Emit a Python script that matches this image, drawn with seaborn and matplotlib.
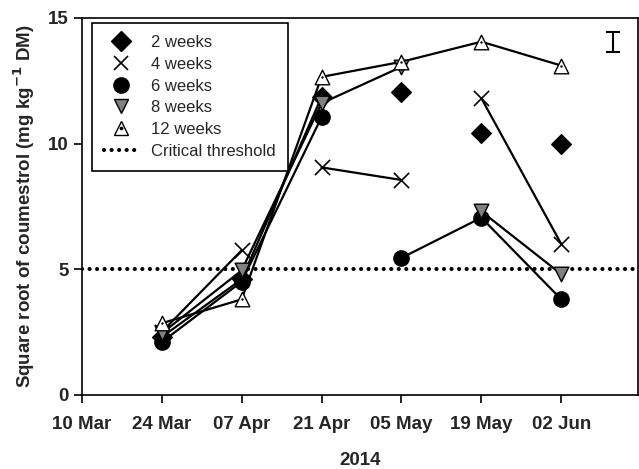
import numpy as np
import pandas as pd
import matplotlib
matplotlib.use("Agg")
import matplotlib.pyplot as plt
import matplotlib.dates as mdates
from matplotlib.lines import Line2D
import seaborn as sns

# sampling dates
dates = ["2014-03-24", "2014-04-07", "2014-04-21", "2014-05-05", "2014-05-19", "2014-06-02"]

# square root of coumestrol per harvest interval, segment ids mark which points are joined
wk2 = [2.3, 4.6, 11.85, 12.05, 10.4, 10.0]
seg2 = [0, 0, 0, 1, 2, 3]
wk4 = [2.5, 5.75, 9.05, 8.55, 11.8, 6.0]
seg4 = [0, 0, 1, 1, 2, 2]
wk6 = [2.1, 4.5, 11.05, 5.45, 7.05, 3.8]
seg6 = [0, 0, 0, 1, 1, 1]
wk8 = [2.45, 4.95, 11.6, 13.05, 7.3, 4.8]
seg8 = [0, 0, 0, 0, 1, 1]
wk12 = [2.85, 3.8, 12.65, 13.25, 14.05, 13.1]
seg12 = [0, 0, 0, 0, 0, 0]

threshold = 5
lsd_center = 14.05
lsd_half = 0.4

sns.set_theme(style="white")
plt.rcParams["font.family"] = ["Liberation Sans", "DejaVu Sans"]

fig = plt.figure(figsize=(6.39, 4.69), dpi=100)
ax = fig.add_axes([0.128, 0.158, 0.871, 0.804])

series = [
    ("2 weeks", wk2, seg2, "D", "black", 10),
    ("4 weeks", wk4, seg4, "x", "black", 10),
    ("6 weeks", wk6, seg6, "o", "black", 11),
    ("8 weeks", wk8, seg8, "v", "#808080", 10.5),
    ("12 weeks", wk12, seg12, "^", "white", 10.5),
]

dot = (0, (0.01, 1.8))

handles = []
for name, vals, segs, mk, fc, ms in series:
    d = pd.DataFrame({"date": pd.to_datetime(dates), "value": vals, "segment": segs})
    sns.lineplot(data=d, x="date", y="value", units="segment", estimator=None,
                 color="black", lw=1.6, legend=False, sort=False, ax=ax)
    if mk == "x":
        sns.scatterplot(data=d, x="date", y="value", marker="x", s=ms ** 2 * 1.2,
                        color="black", linewidth=1.2, ax=ax, zorder=3, legend=False)
    else:
        sns.scatterplot(data=d, x="date", y="value", marker=mk, s=ms ** 2,
                        color=fc, edgecolor="black", linewidth=1.0, ax=ax, zorder=3, legend=False)
    h = Line2D([], [], ls="none", marker=mk, ms=ms, color="black",
               markerfacecolor=fc, markeredgecolor="black",
               markeredgewidth=1.2 if mk == "x" else 1.0)
    if name == "12 weeks":
        # small dot in the middle of the open triangles
        sns.scatterplot(data=d, x="date", y="value", marker="o", s=3,
                        color="black", linewidth=0, ax=ax, zorder=4, legend=False)
        h = (h, Line2D([], [], ls="none", marker="o", ms=1.7, color="black"))
    handles.append(h)

labels = [s[0] for s in series] + ["Critical threshold"]

ax.axhline(threshold, color="black", ls=dot, lw=3.0, dash_capstyle="round")
handles.append(Line2D([], [], color="black", ls=dot, lw=3.0, dash_capstyle="round"))

# LSD bar
ax.errorbar(pd.Timestamp("2014-06-11"), lsd_center, yerr=lsd_half, fmt="none",
            ecolor="black", elinewidth=1.5, capsize=5, capthick=1.5)

ax.set_xlim(pd.Timestamp("2014-03-10"), pd.Timestamp("2014-06-15 12:00"))
ax.set_ylim(0, 15)
ax.set_yticks([0, 5, 10, 15])
ticks = pd.date_range("2014-03-10", "2014-06-02", freq="14D")
ax.set_xticks(ticks)
ax.xaxis.set_major_formatter(mdates.DateFormatter("%d %b"))

for s in ax.spines.values():
    s.set_color("black")
    s.set_linewidth(1.2)
ax.tick_params(axis="both", direction="out", length=6, width=1.2, color="black",
               labelsize=13.5, bottom=True, left=True)
ax.tick_params(axis="x", pad=9)
for lab in ax.get_xticklabels() + ax.get_yticklabels():
    lab.set_fontweight("bold")

ax.set_xlabel("2014", fontsize=13.5, fontweight="bold", labelpad=14)
ax.set_ylabel("Square root of coumestrol (mg kg$^{\\mathbf{-1}}$ DM)", fontsize=13.5,
              fontweight="bold", labelpad=8)

leg = ax.legend(handles=handles, labels=labels, loc="upper left",
                bbox_to_anchor=(0.018, 0.987), borderaxespad=0, fontsize=12,
                frameon=True, fancybox=False, framealpha=1, edgecolor="black",
                borderpad=0.75, labelspacing=0.4, handlelength=2.0, handletextpad=0.8)
leg.get_frame().set_linewidth(1.2)

fig.savefig("out.png", dpi=100)
